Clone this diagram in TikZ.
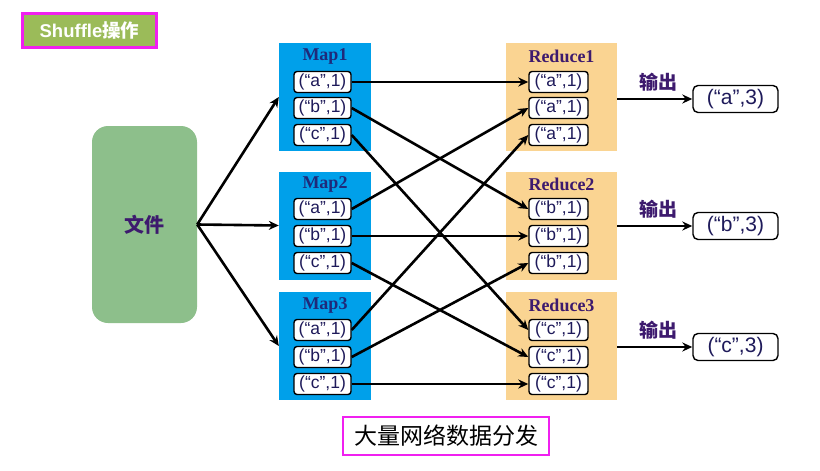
\documentclass[tikz,border=0pt]{standalone}
\usepackage{fontspec}
\setmainfont{Liberation Sans}
\newfontfamily\cjk{Noto Sans CJK SC}
\newfontfamily\titleserif{Liberation Serif}
\usetikzlibrary{arrows.meta}
\definecolor{magentaframe}{HTML}{F020F0}
\definecolor{olivegreen}{HTML}{9BBB59}
\definecolor{filegreen}{HTML}{8DBF8B}
\definecolor{mapblue}{HTML}{00A0EA}
\definecolor{reduceorange}{HTML}{FAD492}
\definecolor{navytext}{HTML}{1F2A7A}
\definecolor{purpletext}{HTML}{3D1A6E}
\definecolor{pairtext}{HTML}{1E1A5A}
\tikzset{
  mapbox/.style={fill=mapblue, draw=none, minimum width=92pt, minimum height=108pt},
  reducebox/.style={fill=reduceorange, draw=none, minimum width=111pt, minimum height=108pt},
  pairbox/.style={draw=black, line width=1.4pt, fill=white, rounded corners=3pt,
    minimum height=21pt, inner sep=0pt, text=pairtext,
    font=\fontsize{17.5}{17.5}\selectfont},
  mappair/.style={pairbox, minimum width=57pt},
  redpair/.style={pairbox, minimum width=59pt},
  outbox/.style={draw=black, line width=1.4pt, fill=white, rounded corners=5pt,
    minimum width=85pt, minimum height=27pt, inner sep=0pt, text=pairtext,
    font=\fontsize{21}{21}\selectfont},
  maptitle/.style={text=navytext, font=\titleserif\bfseries\fontsize{18}{18}\selectfont, inner sep=0pt},
  redtitle/.style={text=purpletext, font=\titleserif\bfseries\fontsize{18}{18}\selectfont, inner sep=0pt},
  outlabel/.style={text=purpletext, font=\cjk\bfseries\fontsize{19}{19}\selectfont, inner sep=0pt},
  flow/.style={draw=black, line width=2.6pt, -{Stealth[length=10pt,width=9pt]}},
  frame/.style={draw=magentaframe, line width=2.5pt},
}
\begin{document}
\begin{tikzpicture}[x=1pt,y=-1pt]
\useasboundingbox (0,0) rectangle (820,471);

% title tag
\node[frame, fill=olivegreen, minimum width=134pt, minimum height=34pt, inner sep=0pt,
  text=white, font=\bfseries\fontsize{18.5}{18.5}\selectfont] (title) at (89.5,30.5)
  {Shuffle{\cjk 操作}};

% input file
\node[fill=filegreen, rounded corners=16pt, minimum width=105pt, minimum height=197pt,
  text=purpletext, font=\cjk\bfseries\fontsize{20}{20}\selectfont] (file) at (144.5,224.5) {文件};

% map tasks
\node[mapbox] (map1) at (325,97) {};
\node[mapbox] (map2) at (325,225.5) {};
\node[mapbox] (map3) at (325,346) {};
\node[maptitle] (map1t) at (325,56) {Map1};
\node[maptitle] (map2t) at (325,184) {Map2};
\node[maptitle] (map3t) at (325,305) {Map3};

\node[mappair] (m1a) at (322.5,82) {(“a”,1)};
\node[mappair] (m1b) at (322.5,108) {(“b”,1)};
\node[mappair] (m1c) at (322.5,135) {(“c”,1)};
\node[mappair] (m2a) at (322.5,209) {(“a”,1)};
\node[mappair] (m2b) at (322.5,236) {(“b”,1)};
\node[mappair] (m2c) at (322.5,263) {(“c”,1)};
\node[mappair] (m3a) at (322.5,330) {(“a”,1)};
\node[mappair] (m3b) at (322.5,357) {(“b”,1)};
\node[mappair] (m3c) at (322.5,384) {(“c”,1)};

% reduce tasks
\node[reducebox] (red1) at (561.5,97) {};
\node[reducebox] (red2) at (561.5,225.5) {};
\node[reducebox] (red3) at (561.5,346) {};
\node[redtitle] (red1t) at (561.5,56) {Reduce1};
\node[redtitle] (red2t) at (561.5,184) {Reduce2};
\node[redtitle] (red3t) at (561.5,305) {Reduce3};

\node[redpair] (r1a) at (558.5,82) {(“a”,1)};
\node[redpair] (r1b) at (558.5,108) {(“a”,1)};
\node[redpair] (r1c) at (558.5,135) {(“a”,1)};
\node[redpair] (r2a) at (558.5,209) {(“b”,1)};
\node[redpair] (r2b) at (558.5,236) {(“b”,1)};
\node[redpair] (r2c) at (558.5,263) {(“b”,1)};
\node[redpair] (r3a) at (558.5,330) {(“c”,1)};
\node[redpair] (r3b) at (558.5,357) {(“c”,1)};
\node[redpair] (r3c) at (558.5,384) {(“c”,1)};

% outputs
\node[outbox] (out1) at (735.5,99) {(“a”,3)};
\node[outbox] (out2) at (735.5,226) {(“b”,3)};
\node[outbox] (out3) at (735.5,347) {(“c”,3)};
\node[outlabel] (lab1) at (658,82) {输出};
\node[outlabel] (lab2) at (658,209) {输出};
\node[outlabel] (lab3) at (658,330) {输出};

% file split into map inputs
\draw[flow] (file.east) -- (map1.west);
\draw[flow] (file.east) -- (map2.west);
\draw[flow] (file.east) -- (map3.west);

% shuffle: each key goes to its reducer
\draw[flow] (m1a.east) -- (r1a.west);
\draw[flow] (m1b.east) -- (r2a.west);
\draw[flow] (m1c.east) -- (r3a.west);
\draw[flow] (m2a.east) -- (r1b.west);
\draw[flow] (m2b.east) -- (r2b.west);
\draw[flow] (m2c.east) -- (r3b.west);
\draw[flow] (m3a.east) -- (r1c.west);
\draw[flow] (m3b.east) -- (r2c.west);
\draw[flow] (m3c.east) -- (r3c.west);

% reducer results
\draw[flow] (red1.east |- out1) -- (out1.west);
\draw[flow] (red2.east |- out2) -- (out2.west);
\draw[flow] (red3.east |- out3) -- (out3.west);

% caption
\node[frame, fill=white, minimum width=206pt, minimum height=38pt, inner sep=0pt,
  font=\cjk\fontsize{23}{23}\selectfont] (caption) at (446,436) {大量网络数据分发};
\end{tikzpicture}
\end{document}
